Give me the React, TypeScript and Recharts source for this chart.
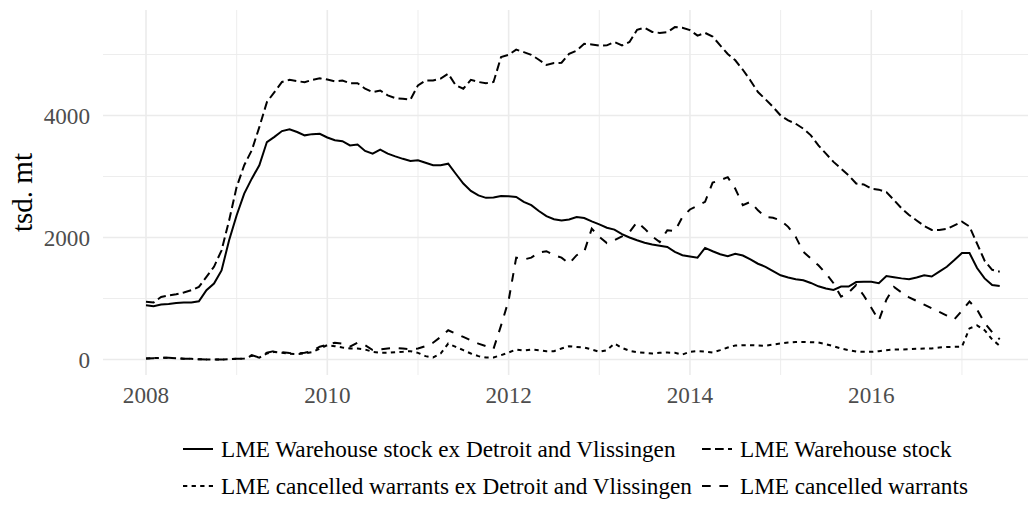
import { LineChart, Line, XAxis, YAxis, CartesianGrid } from 'recharts';

// monthly values, Jan 2008 .. Jun 2017, tsd. mt
const exStock = [
  890, 875, 900, 910, 925, 935, 935, 955, 1135, 1245, 1460, 1955,
  2365, 2720, 2965, 3185, 3565, 3650, 3745, 3775, 3730, 3675, 3695, 3700,
  3640, 3595, 3580, 3510, 3525, 3420, 3375, 3440, 3375, 3330, 3290, 3255,
  3265, 3225, 3185, 3185, 3210, 3045, 2885, 2765, 2690, 2650, 2655, 2680,
  2678, 2665, 2585, 2530, 2435, 2350, 2300, 2280, 2295, 2335, 2320, 2265,
  2215, 2160, 2130, 2055, 2000, 1955, 1915, 1885, 1865, 1845, 1765, 1710,
  1690, 1670, 1830, 1775, 1725, 1695, 1735, 1705, 1640, 1570, 1520, 1450,
  1380, 1345, 1315, 1300, 1255, 1200, 1165, 1140, 1195, 1195, 1270, 1275,
  1275, 1250, 1370, 1350, 1330, 1315, 1345, 1380, 1360, 1440, 1520, 1630,
  1745, 1745, 1500, 1330, 1220, 1205,
];

const stock = [
  945, 935, 1025, 1050, 1070, 1100, 1135, 1190, 1355, 1520, 1790, 2280,
  2830, 3185, 3430, 3810, 4220, 4385, 4550, 4585, 4565, 4545, 4585, 4610,
  4590, 4560, 4575, 4530, 4530, 4440, 4385, 4410, 4330, 4285, 4275, 4260,
  4495, 4575, 4575, 4605, 4685, 4495, 4440, 4585, 4550, 4530, 4550, 4960,
  4995, 5080, 5040, 4995, 4915, 4830, 4860, 4865, 5010, 5065, 5175, 5165,
  5145, 5150, 5205, 5150, 5205, 5405, 5440, 5370, 5355, 5365, 5450, 5440,
  5400, 5310, 5355, 5295, 5150, 5010, 4905, 4750, 4575, 4385, 4265, 4140,
  4000, 3920, 3865, 3785, 3675, 3510, 3375, 3240, 3130, 3020, 2885, 2870,
  2800, 2785, 2745, 2615, 2480, 2370, 2280, 2190, 2125, 2125, 2140, 2200,
  2260, 2180, 1900, 1620, 1470, 1440,
];

const exCancelled = [
  16, 22, 27, 27, 22, 11, 11, 5, 0, 0, 0, 5,
  11, 16, 60, 30, 100, 125, 110, 95, 90, 100, 120, 180,
  235, 218, 197, 180, 180, 164, 126, 109, 109, 120, 126, 137,
  109, 55, 33, 98, 262, 207, 153, 98, 55, 33, 33, 71,
  115, 164, 147, 164, 153, 137, 137, 180, 218, 207, 197, 164,
  126, 153, 262, 191, 142, 120, 109, 98, 109, 115, 109, 82,
  126, 137, 131, 115, 153, 197, 229, 235, 235, 229, 224, 246,
  262, 278, 289, 289, 284, 278, 251, 218, 180, 153, 131, 126,
  126, 137, 153, 164, 164, 169, 175, 180, 180, 197, 207, 207,
  210, 510, 560, 480, 330, 225,
];

const cancelled = [
  16, 22, 27, 27, 22, 11, 11, 5, 0, 0, 0, 5,
  11, 16, 71, 33, 110, 140, 120, 105, 100, 110, 140, 210,
  240, 275, 260, 210, 275, 235, 155, 165, 180, 190, 180, 170,
  180, 220, 275, 370, 480, 425, 370, 315, 260, 220, 175, 560,
  970, 1670, 1640, 1670, 1755, 1775, 1710, 1670, 1570, 1710, 1765, 2145,
  2010, 1910, 1955, 2020, 2090, 2255, 2145, 2020, 1925, 2120, 2105, 2335,
  2460, 2520, 2585, 2900, 2940, 2990, 2800, 2530, 2585, 2445, 2335, 2325,
  2280, 2175, 2010, 1765, 1655, 1545, 1410, 1250, 1030, 1100, 1220, 1050,
  850, 640, 980, 1190, 1100, 1020, 960, 900, 840, 780, 720, 660,
  800, 950, 820, 600, 450, 330,
];

const yearTicks = [2008, 2010, 2012, 2014, 2016];
const minorYears = [2009, 2011, 2013, 2015, 2017];
const valueTicks = [0, 2000, 4000];
const minorValues = [1000, 3000, 5000];

const series = [
  { key: 'exStock', name: 'LME Warehouse stock ex Detroit and Vlissingen', dash: undefined },
  { key: 'stock', name: 'LME Warehouse stock', dash: '8.7 4.3' },
  { key: 'exCancelled', name: 'LME cancelled warrants ex Detroit and Vlissingen', dash: '4.3 4.3' },
  { key: 'cancelled', name: 'LME cancelled warrants', dash: '8.7 8.7' },
];

const data = exStock.map((v, i) => ({
  t: 2008 + i / 12,
  exStock: v,
  stock: stock[i],
  exCancelled: exCancelled[i],
  cancelled: cancelled[i],
}));

const FONT = "'Liberation Serif', 'Times New Roman', serif";
const TEXT_SIZE = 23.2;

function LegendKey({ dash }: { dash?: string }) {
  return (
    <svg width={30} height={20} style={{ display: 'block' }}>
      <line x1={0} y1={10} x2={30} y2={10} stroke="#000" strokeWidth={2} strokeDasharray={dash} />
    </svg>
  );
}

function LegendItem({ x, y, s }: { x: number; y: number; s: (typeof series)[number] }) {
  return (
    <div style={{ position: 'absolute', left: x, top: y - 10, display: 'flex', alignItems: 'center', height: 20 }}>
      <LegendKey dash={s.dash} />
      <span style={{ marginLeft: 8, fontSize: TEXT_SIZE, lineHeight: '20px', whiteSpace: 'nowrap', color: '#000' }}>{s.name}</span>
    </div>
  );
}

export default function App() {
  return (
    <div style={{ position: 'absolute', left: 0, top: 0, width: 1032, height: 505, background: '#fff', fontFamily: FONT }}>
      <LineChart width={1032} height={505} data={data} margin={{ top: 10, right: 4, left: 0, bottom: 90 }}>
        <CartesianGrid stroke="#ebebeb" strokeWidth={0.9} horizontalValues={minorValues} verticalValues={minorYears} syncWithTicks />
        <CartesianGrid stroke="#ebebeb" strokeWidth={1.6} syncWithTicks />
        <XAxis
          type="number"
          dataKey="t"
          domain={[2007.5257, 2017.7286]}
          ticks={yearTicks}
          allowDataOverflow
          axisLine={false}
          tickLine={false}
          tickSize={0}
          tickMargin={12}
          height={40}
          tick={{ fill: '#4d4d4d', fontSize: TEXT_SIZE, fontFamily: FONT }}
        />
        <YAxis
          type="number"
          domain={[-254, 5730]}
          ticks={valueTicks}
          allowDataOverflow
          axisLine={false}
          tickLine={false}
          tickSize={0}
          tickMargin={13}
          width={103}
          tick={{ fill: '#4d4d4d', fontSize: TEXT_SIZE, fontFamily: FONT }}
          label={{
            content: () => (
              <text
                x={32}
                y={192.5}
                transform="rotate(-90 32 192.5)"
                textAnchor="middle"
                fontSize={29}
                fontFamily={FONT}
                fill="#000"
              >
                tsd. mt
              </text>
            ),
          }}
        />
        {series.map((s) => (
          <Line
            key={s.key}
            type="linear"
            dataKey={s.key}
            name={s.name}
            stroke="#000"
            strokeWidth={2}
            strokeDasharray={s.dash}
            dot={false}
            activeDot={false}
            isAnimationActive={false}
          />
        ))}
      </LineChart>
      <LegendItem x={183} y={449} s={series[0]} />
      <LegendItem x={702} y={449} s={series[1]} />
      <LegendItem x={183} y={486} s={series[2]} />
      <LegendItem x={702} y={486} s={series[3]} />
    </div>
  );
}
